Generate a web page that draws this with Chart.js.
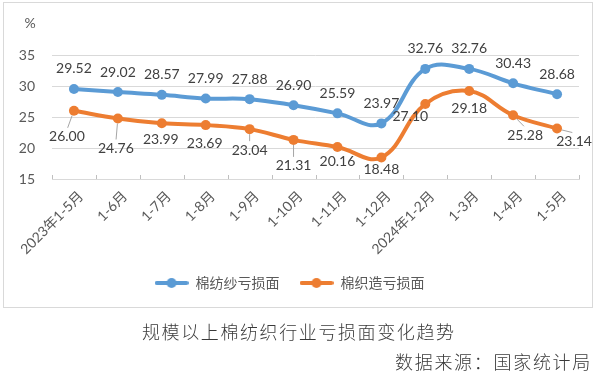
<!DOCTYPE html>
<html>
<head>
<meta charset="utf-8">
<script src="https://cdn.jsdelivr.net/npm/chart.js@4"></script>
<style>
html,body{margin:0;padding:0;background:#fff;}
#wrap{position:relative;width:597px;height:379px;}
canvas{display:block;}
</style>
</head>
<body>
<div id="wrap"><canvas id="c" width="597" height="379"></canvas></div>
<script>
// ---- data ----
const categories = ['2023年1-5月','1-6月','1-7月','1-8月','1-9月','1-10月','1-11月','1-12月','2024年1-2月','1-3月','1-4月','1-5月'];
const yarnLoss   = [29.52, 29.02, 28.57, 27.99, 27.88, 26.90, 25.59, 23.97, 32.76, 32.76, 30.43, 28.68];
const fabricLoss = [26.00, 24.76, 23.99, 23.69, 23.04, 21.31, 20.16, 18.48, 27.10, 29.18, 25.28, 23.14];
const seriesNames = ['棉纺纱亏损面', '棉织造亏损面'];
const yMin = 15, yMax = 35, yStep = 5;
const unitLabel = '%';
const chartTitle = '规模以上棉纺织行业亏损面变化趋势';
const sourceNote = '数据来源：国家统计局';

// ---- styles ----
const BLUE = '#5B9BD5', ORANGE = '#ED7D31';
const yarnLabelOffsets = categories.map(() => [0, -20]);
const fabricLabelOffsets = [[-7,26],[-2,30],[-1,16],[-1,18],[0,21],[0,26],[0,14],[0,12],[-15,13],[0,17],[12,20],[17,13]];
const NUMFONT = "Lato, 'Noto Sans CJK SC', sans-serif";
const CJKFONT = "'Noto Sans CJK SC', sans-serif";

function legendIcon(color) {
  const c = document.createElement('canvas');
  c.width = 34; c.height = 12;
  const g = c.getContext('2d');
  g.strokeStyle = color; g.lineWidth = 4; g.lineCap = 'round';
  g.beginPath(); g.moveTo(2, 6); g.lineTo(32, 6); g.stroke();
  g.fillStyle = color; g.beginPath(); g.arc(17, 6, 5, 0, Math.PI * 2); g.fill();
  return c;
}
const icons = [legendIcon(BLUE), legendIcon(ORANGE)];

const decor = {
  id: 'decor',
  beforeDraw(chart) {
    const ctx = chart.ctx;
    ctx.save();
    ctx.fillStyle = '#fff';
    ctx.fillRect(0, 0, chart.width, chart.height);
    ctx.strokeStyle = '#d9d9d9'; ctx.lineWidth = 1;
    ctx.strokeRect(3.5, 2.5, 589, 305);
    ctx.fillStyle = '#595959';
    ctx.font = '14px ' + NUMFONT;
    ctx.textAlign = 'center'; ctx.textBaseline = 'middle';
    ctx.fillText(unitLabel, 30, 23);
    ctx.restore();
  },
  afterDatasetsDraw(chart) {
    const ctx = chart.ctx;
    const xs = chart.scales.x;
    ctx.save();
    // inside tick marks at category boundaries
    ctx.strokeStyle = '#bfbfbf'; ctx.lineWidth = 1;
    const n = categories.length;
    const bottom = chart.chartArea.bottom;
    for (let i = 0; i <= n; i++) {
      const x = Math.round(xs.left + i * (xs.width / n)) + 0.5;
      ctx.beginPath(); ctx.moveTo(x, bottom); ctx.lineTo(x, bottom - 4); ctx.stroke();
    }
    // data labels
    ctx.font = '14px ' + NUMFONT;
    ctx.textAlign = 'center'; ctx.textBaseline = 'middle';
    const offsets = [yarnLabelOffsets, fabricLabelOffsets];
    chart.data.datasets.forEach((ds, di) => {
      const meta = chart.getDatasetMeta(di);
      meta.data.forEach((pt, i) => {
        const [dx, dy] = offsets[di][i];
        const lx = pt.x + dx, ly = pt.y + dy;
        if (Math.hypot(dx, dy) > 20) {
          const ang = Math.atan2(dy - 8, dx);
          ctx.strokeStyle = '#a6a6a6'; ctx.lineWidth = 1;
          ctx.beginPath();
          ctx.moveTo(pt.x + Math.cos(ang) * 5, pt.y + Math.sin(ang) * 5);
          ctx.lineTo(lx - dx * 0.1, ly - 9);
          ctx.stroke();
        }
        ctx.fillStyle = '#404040';
        ctx.fillText(ds.data[i].toFixed(2), lx, ly);
      });
    });
    ctx.restore();
  },
  afterDraw(chart) {
    const ctx = chart.ctx;
    ctx.save();
    ctx.fillStyle = '#3a3a3a';
    ctx.font = '300 18px ' + CJKFONT;
    ctx.textAlign = 'left'; ctx.textBaseline = 'middle';
    const tChars = Array.from(chartTitle);
    tChars.forEach((ch, i) => ctx.fillText(ch, 142 + i * 19.6, 332));
    const sChars = Array.from(sourceNote);
    sChars.forEach((ch, i) => ctx.fillText(ch, 395 + i * 19.7, 362));
    ctx.restore();
  }
};

new Chart(document.getElementById('c'), {
  type: 'line',
  data: {
    labels: categories,
    datasets: [
      { label: seriesNames[0], data: yarnLoss, borderColor: BLUE, backgroundColor: BLUE,
        borderWidth: 4, tension: 0.4, pointRadius: 5, pointBorderWidth: 0, pointBackgroundColor: BLUE },
      { label: seriesNames[1], data: fabricLoss, borderColor: ORANGE, backgroundColor: ORANGE,
        borderWidth: 4, tension: 0.4, pointRadius: 5, pointBorderWidth: 0, pointBackgroundColor: ORANGE }
    ]
  },
  options: {
    responsive: false,
    animation: false,
    devicePixelRatio: 1,
    layout: { padding: { left: 0, right: 18, top: 55, bottom: 79 } },
    plugins: {
      tooltip: { enabled: false },
      title: { display: false },
      legend: {
        display: true,
        position: 'bottom',
        labels: {
          usePointStyle: true,
          pointStyleWidth: 34,
          boxHeight: 14,
          padding: 20,
          color: '#595959',
          font: { size: 14, family: CJKFONT },
          generateLabels(chart) {
            const items = Chart.defaults.plugins.legend.labels.generateLabels(chart);
            items.forEach((it, i) => { it.pointStyle = icons[i]; });
            return items;
          }
        }
      }
    },
    scales: {
      x: {
        offset: true,
        grid: { display: false, drawTicks: false },
        border: { display: true, color: '#d9d9d9' },
        ticks: { color: '#595959', font: { size: 14, family: NUMFONT }, minRotation: 45, maxRotation: 45, padding: 9, labelOffset: 7, autoSkip: false },
        afterFit(scale) { scale.height = 77; }
      },
      y: {
        min: yMin, max: yMax,
        grid: { color: '#d9d9d9', drawTicks: false },
        border: { display: false },
        ticks: { stepSize: yStep, color: '#595959', font: { size: 14, family: NUMFONT }, padding: 17 },
        afterFit(scale) { scale.width = 52; }
      }
    }
  },
  plugins: [decor]
});
</script>
</body>
</html>
